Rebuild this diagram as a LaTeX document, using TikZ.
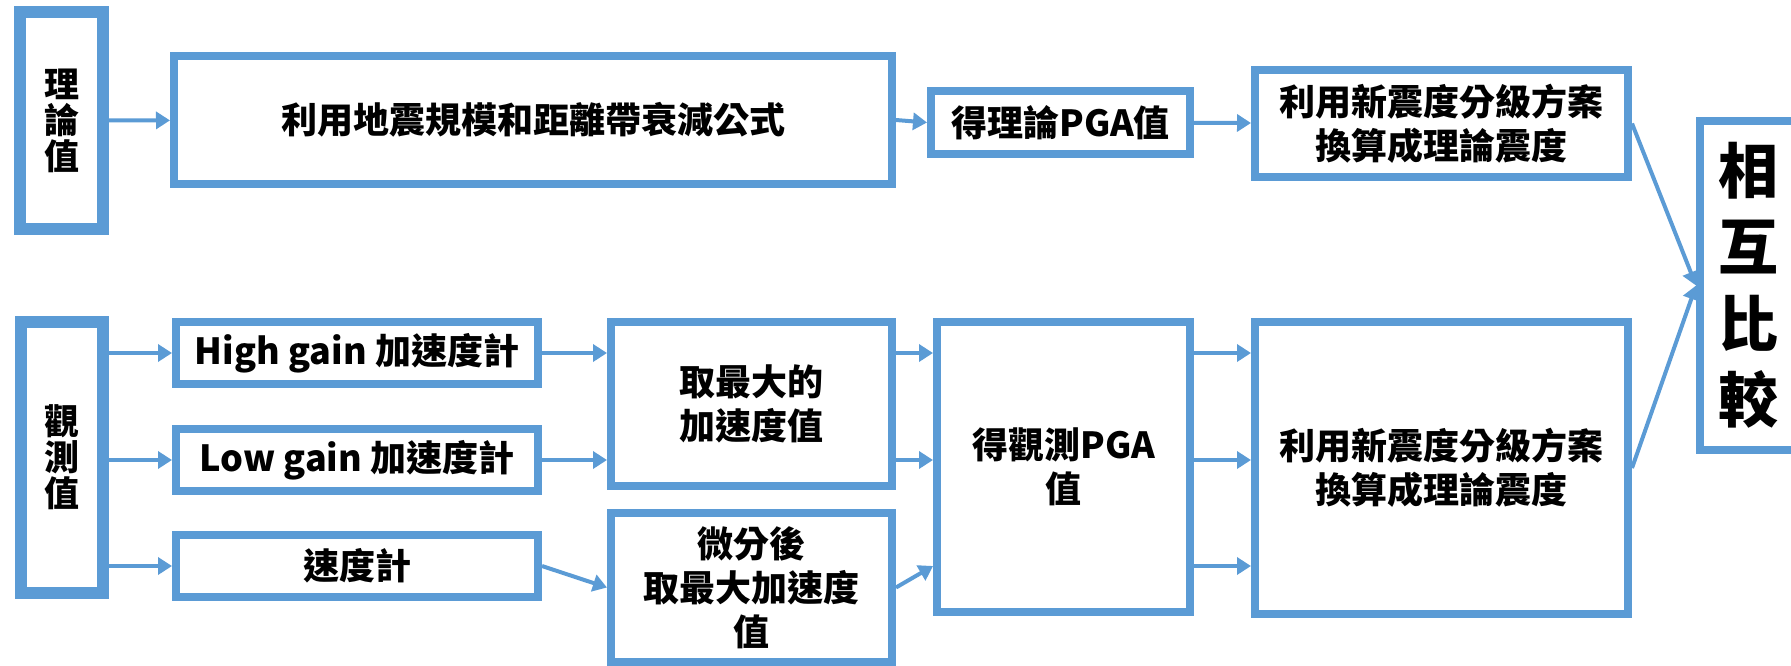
\documentclass[tikz,border=0pt]{standalone}
\usepackage{fontspec}
\newfontfamily\cjk{Noto Sans CJK TC}
\usetikzlibrary{arrows.meta}
\definecolor{boxblue}{RGB}{91,155,213}

\begin{document}
\begin{tikzpicture}[x=1pt, y=-1pt,
  box/.style = {draw=boxblue, line width=8pt, inner sep=0pt, align=center,
    font=\cjk\bfseries\fontsize{36}{44}\selectfont},
  side/.style = {box, line width=12pt, font=\cjk\bfseries\fontsize{35}{36}\selectfont},
  arr/.style = {draw=boxblue, line width=4pt, -{Triangle[length=14pt, width=17pt]}}]
\useasboundingbox (0,0) rectangle (1791,665);
% theory row
\node[side, minimum width=83pt, minimum height=217pt] (t0) at (61.5,120.5) {理\\論\\值};
\node[box, minimum width=718pt, minimum height=128pt] (t1) at (533,120) {利用地震規模和距離帶衰減公式};
\node[box, minimum width=259pt, minimum height=63pt] (t2) at (1060.5,122.5) {得理論PGA值};
\node[box, minimum width=373pt, minimum height=107pt] (t3) at (1441.5,123.5) {利用新震度分級方案\\換算成理論震度};
% observation row
\node[side, minimum width=82pt, minimum height=271pt] (o0) at (62,457.5) {觀\\測\\值};
\node[box, minimum width=362pt, minimum height=62pt] (o1) at (357,353) {High gain 加速度計};
\node[box, minimum width=362pt, minimum height=62pt] (o2) at (357,460) {Low gain 加速度計};
\node[box, minimum width=362pt, minimum height=62pt] (o3) at (357,566) {速度計};
\node[box, minimum width=281pt, minimum height=164pt] (m1) at (751.5,404) {取最大的\\加速度值};
\node[box, minimum width=281pt, minimum height=149pt] (m2) at (751.5,587.5) {微分後\\取最大加速度\\值};
\node[box, minimum width=253pt, minimum height=290pt] (o4) at (1063.5,467) {得觀測PGA\\值};
\node[box, minimum width=373pt, minimum height=292pt] (o5) at (1441.5,468) {利用新震度分級方案\\換算成理論震度};
% compare
\node[box, minimum width=96pt, minimum height=329pt,
  font=\cjk\bfseries\fontsize{60}{76.5}\selectfont] (c1) at (1748,285.5) {相\\互\\比\\較};

\draw[arr] (t0) -- (t1);
\draw[arr] (t1.east) -- (t2.west);
\draw[arr] (t2) -- (t3);
\draw[arr] (t3.east) -- (c1.west);
\draw[arr] (o5.east) -- (c1.west);

\draw[arr] (o0.east |- o1) -- (o1.west);
\draw[arr] (o0.east |- o2) -- (o2.west);
\draw[arr] (o0.east |- o3) -- (o3.west);
\draw[arr] (o1.east) -- (m1.west |- o1.east);
\draw[arr] (o2.east) -- (m1.west |- o2.east);
\draw[arr] (o3.east) -- (m2.west);
\draw[arr] (m1.east |- o1) -- (o4.west |- o1);
\draw[arr] (m1.east |- o2) -- (o4.west |- o2);
\draw[arr] (m2.east) -- (o4.west |- o3);
\draw[arr] (o4.east |- o1) -- (o5.west |- o1);
\draw[arr] (o4.east |- o2) -- (o5.west |- o2);
\draw[arr] (o4.east |- o3) -- (o5.west |- o3);
\end{tikzpicture}
\end{document}
